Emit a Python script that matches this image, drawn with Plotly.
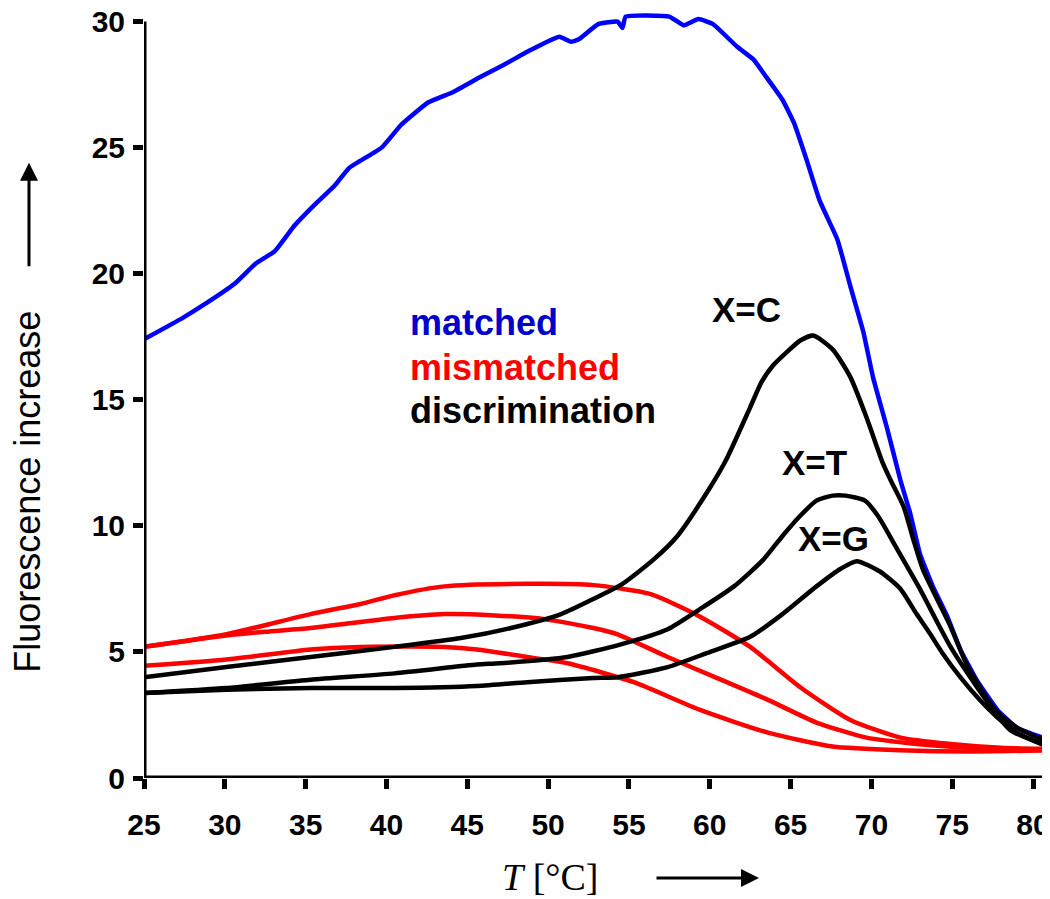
import plotly.graph_objects as go

# ---- data ----
matched_T = [25.0, 27.4, 28.9, 30.6, 31.9, 33.1, 34.3, 35.5, 36.8, 37.7, 39.7, 40.9, 42.6, 44.1,
             45.8, 47.3, 49.0, 50.7, 51.4, 51.9, 53.1, 54.3, 54.6, 54.8, 57.5, 58.4, 59.3, 60.2,
             61.7, 62.7, 63.5, 64.5, 65.2, 66.0, 66.8, 67.9, 68.7, 69.5, 70.1, 71.0, 71.8, 72.4,
             73.0, 73.8, 74.7, 75.5, 76.5, 77.8, 79.0, 81.05]
matched_F = [17.4, 18.25, 18.85, 19.6, 20.4, 20.9, 21.9, 22.7, 23.5, 24.2, 25.0, 25.9, 26.8, 27.2,
             27.8, 28.3, 28.9, 29.4, 29.2, 29.3, 29.9, 30.0, 29.75, 30.2, 30.2, 29.85, 30.1, 29.9,
             29.0, 28.5, 27.8, 26.9, 26.0, 24.5, 22.9, 21.35, 19.5, 17.7, 15.9, 13.8, 11.8, 10.5,
             8.9, 7.6, 6.4, 5.1, 3.9, 2.7, 2.0, 1.5]

mis1_T = [25.0, 30.1, 35.3, 38.4, 40.5, 43.6, 48.7, 52.8, 56.3, 59.4, 62.5, 65.6, 68.7, 71.8, 74.9, 78.0, 81.05]
mis1_F = [5.2, 5.7, 6.5, 6.9, 7.25, 7.6, 7.7, 7.65, 7.3, 6.4, 5.2, 3.6, 2.3, 1.6, 1.35, 1.2, 1.15]

mis2_T = [25.0, 30.1, 32.5, 35.3, 40.5, 43.6, 46.7, 49.8, 52.8, 54.3, 57.4, 60.5, 63.6, 66.6, 69.7, 72.8, 76.0, 81.05]
mis2_F = [5.2, 5.65, 5.8, 5.95, 6.35, 6.5, 6.45, 6.3, 5.95, 5.7, 4.8, 3.95, 3.1, 2.2, 1.6, 1.35, 1.2, 1.1]

mis3_T = [25.0, 30.1, 35.3, 38.4, 43.6, 45.6, 48.7, 51.2, 55.3, 59.4, 63.6, 67.6, 71.8, 76.0, 81.05]
mis3_F = [4.45, 4.7, 5.1, 5.2, 5.2, 5.1, 4.8, 4.55, 3.8, 2.7, 1.8, 1.25, 1.1, 1.05, 1.1]

xc_T = [25.0, 30.1, 35.3, 40.5, 44.6, 47.7, 50.8, 52.8, 54.6, 56.5, 58.0, 60.0, 61.0, 62.5, 63.2, 63.9,
        64.7, 65.6, 66.4, 67.6, 68.7, 69.7, 70.7, 71.2, 72.0, 72.6, 73.2, 74.1, 74.9, 75.9, 77.2, 77.8,
        79.0, 81.05]
xc_F = [4.0, 4.4, 4.8, 5.2, 5.55, 5.95, 6.5, 7.1, 7.7, 8.65, 9.6, 11.5, 12.6, 14.7, 15.7, 16.35,
        16.85, 17.35, 17.55, 17.0, 15.9, 14.3, 12.5, 11.8, 10.75, 9.45, 8.25, 7.05, 6.0, 4.5, 3.1, 2.6,
        2.0, 1.4]

xt_T = [25.0, 30.1, 35.3, 40.5, 45.6, 47.0, 51.2, 54.5, 57.4, 59.4, 61.5, 63.3, 64.5, 65.6, 66.6,
        67.6, 68.4, 69.6, 70.4, 71.4, 72.2, 73.0, 74.1, 74.9, 75.9, 77.2, 78.6, 81.05]
xt_F = [3.37, 3.57, 3.9, 4.15, 4.5, 4.55, 4.8, 5.3, 5.9, 6.7, 7.6, 8.65, 9.6, 10.4, 11.0,
        11.2, 11.2, 11.0, 10.4, 9.3, 8.4, 7.5, 6.15, 5.2, 4.2, 3.0, 1.9, 1.25]

xg_T = [25.0, 30.1, 35.3, 40.5, 45.6, 48.7, 52.8, 54.3, 57.4, 59.8, 62.5, 64.5, 66.6, 68.1, 69.1,
        70.5, 71.8, 72.8, 73.6, 74.4, 75.5, 76.7, 77.8, 79.0, 81.05]
xg_F = [3.37, 3.5, 3.57, 3.57, 3.65, 3.8, 3.97, 4.0, 4.4, 4.95, 5.6, 6.5, 7.6, 8.3, 8.6,
        8.2, 7.5, 6.5, 5.75, 4.95, 4.0, 3.1, 2.4, 1.8, 1.2]

x_ticks = [25, 30, 35, 40, 45, 50, 55, 60, 65, 70, 75, 80]
y_ticks = [0, 5, 10, 15, 20, 25, 30]

BLUE = "#0000FF"
RED = "#FF0000"
BLACK = "#000000"

fig = go.Figure()

def add(tx, fy, color, smoothing=0.6):
    fig.add_trace(go.Scatter(x=tx, y=fy, mode="lines",
                             line=dict(color=color, width=4.5, shape="spline", smoothing=smoothing),
                             showlegend=False, hoverinfo="skip"))

add(mis1_T, mis1_F, RED)
add(mis2_T, mis2_F, RED)
add(mis3_T, mis3_F, RED)
add(matched_T, matched_F, BLUE, 0.4)
add(xc_T, xc_F, BLACK)
add(xt_T, xt_F, BLACK)
add(xg_T, xg_F, BLACK)

tickfont = dict(family="Liberation Sans, Arial, sans-serif", size=30, color="black", weight="bold")

fig.update_xaxes(range=[25, 81.05], tickvals=x_ticks, ticktext=[str(v) for v in x_ticks],
                 ticks="outside", ticklen=10, tickwidth=5, tickcolor="black", automargin=False,
                 ticklabelstandoff=10, ticklabeloverflow="allow",
                 showline=False, showgrid=False, zeroline=False, tickfont=tickfont)
fig.update_yaxes(range=[0, 30.5], tickvals=y_ticks, ticktext=[str(v) for v in y_ticks],
                 ticks="outside", ticklen=10, tickwidth=5, tickcolor="black", automargin=False,
                 ticklabelstandoff=2, ticklabeloverflow="allow",
                 showline=False, showgrid=False, zeroline=False, tickfont=tickfont)

# axis lines
fig.add_shape(type="line", xref="x", yref="y", x0=25, x1=81.05, y0=0, y1=0,
              line=dict(color="black", width=5), layer="above")
fig.add_shape(type="line", xref="x", yref="y", x0=25, x1=25, y0=0, y1=30,
              line=dict(color="black", width=5), layer="above")

annfont = "Liberation Sans, Arial, sans-serif"
# plot area in screen pixels (page body has an 8px margin)
PX0, PY0, PW, PH = 144, 778, 906, 778 - 9.4


def px(xp):
    return (xp - PX0) / PW


def py(yp):
    return (PY0 - yp) / PH


def label(xp, yp, text, color, size, xanchor="left"):
    fig.add_annotation(x=px(xp), y=py(yp), xref="paper", yref="paper",
                       text=text, showarrow=False, xanchor=xanchor, yanchor="middle",
                       font=dict(family=annfont, size=size, color=color, weight="bold"))

label(408, 323, "matched", "#0000CC", 36)
label(408, 368, "mismatched", RED, 36)
label(408, 411, "discrimination", BLACK, 36)
label(746, 310, "X=C", BLACK, 35, "center")
label(814, 463, "X=T", BLACK, 35, "center")
label(833, 539, "X=G", BLACK, 35, "center")

# y-axis title and arrow
fig.add_annotation(x=px(28), y=py(492), xref="paper", yref="paper",
                   text="Fluorescence increase", textangle=-90, showarrow=False,
                   xanchor="center", yanchor="middle",
                   font=dict(family=annfont, size=36, color="black"))
fig.add_annotation(x=px(29), y=py(163), xref="paper", yref="paper",
                   ax=0, ay=105, axref="pixel", ayref="pixel",
                   text="", showarrow=True, arrowhead=2, arrowsize=1.2, arrowwidth=3,
                   arrowcolor="black")

# x-axis title and arrow
fig.add_annotation(x=px(500), y=py(877), xref="paper", yref="paper",
                   text="<i>T</i> [°C]", showarrow=False, xanchor="left", yanchor="middle",
                   font=dict(family="Liberation Serif, Times New Roman, serif", size=38, color="black"))
fig.add_annotation(x=px(759), y=py(878), xref="paper", yref="paper",
                   ax=-104, ay=0, axref="pixel", ayref="pixel",
                   text="", showarrow=True, arrowhead=2, arrowsize=1.2, arrowwidth=3,
                   arrowcolor="black")

fig.update_layout(width=1042, height=891, margin=dict(l=136, r=0, t=1.4, b=121, pad=0),
                  plot_bgcolor="white", paper_bgcolor="white")

fig.write_html("out.html")
